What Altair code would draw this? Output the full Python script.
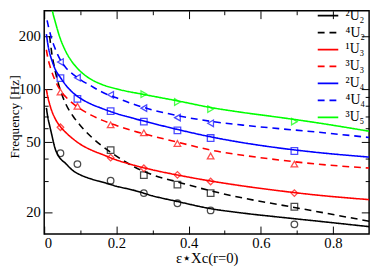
import altair as alt
import pandas as pd

SERIES = ["²U₂", "⁴U₂", "¹U₃", "³U₃", "²U₄", "⁴U₄", "³U₅"]
COLORS = ["#000000", "#000000", "#ff0000", "#ff0000", "#0000ff", "#0000ff", "#00ff00"]
DASHES = [[1, 0], [7, 5], [1, 0], [7, 5], [1, 0], [7, 5], [1, 0]]
SHAPES = ["circle", "square", "diamond", "triangle-up", "square", "triangle-left", "triangle-right"]

# fitted curves
X_2U2 = [0.006, 0.01, 0.015, 0.02, 0.03, 0.04, 0.06, 0.08, 0.1, 0.13, 0.16, 0.2, 0.25, 0.3, 0.37, 0.46, 0.55, 0.65, 0.75, 0.9]
F_2U2 = [78, 69, 62, 56, 46, 41.5, 37.6, 34.3, 32.5, 30.8, 29.6, 28.0, 26.5, 24.7, 22.9, 20.9, 19.7, 18.7, 17.8, 16.5]
X_4U2 = [0.015, 0.02, 0.03, 0.045, 0.06, 0.08, 0.1, 0.13, 0.16, 0.2, 0.25, 0.3, 0.37, 0.46, 0.55, 0.65, 0.75, 0.9]
F_4U2 = [200, 165, 128, 98, 82, 70, 62, 53.5, 47.5, 41.5, 36, 32.5, 29.6, 26.4, 24, 22, 20.2, 17.7]
X_1U3 = [0.006, 0.01, 0.015, 0.02, 0.03, 0.045, 0.06, 0.08, 0.1, 0.13, 0.16, 0.2, 0.25, 0.3, 0.37, 0.46, 0.55, 0.65, 0.75, 0.9]
F_1U3 = [99, 90, 82, 76, 68, 61, 56.5, 52, 48.5, 45, 42.5, 39.5, 36.8, 34.7, 32.4, 30, 28.1, 26.4, 25, 23.5]
X_3U3 = [0.006, 0.01, 0.015, 0.02, 0.03, 0.045, 0.06, 0.08, 0.1, 0.13, 0.16, 0.2, 0.25, 0.3, 0.37, 0.46, 0.55, 0.65, 0.75, 0.9]
F_3U3 = [167, 150, 137, 127, 112, 98, 90, 82.5, 77, 71, 66.5, 62, 57.5, 54, 49.8, 45, 42, 39.5, 37.5, 35.5]
X_2U4 = [0.006, 0.01, 0.015, 0.02, 0.03, 0.045, 0.06, 0.08, 0.1, 0.13, 0.16, 0.2, 0.25, 0.3, 0.37, 0.46, 0.55, 0.65, 0.75, 0.9]
F_2U4 = [205, 180, 160, 148, 130, 116, 105, 95, 88.5, 82, 77.5, 72.5, 67.8, 63.8, 58.8, 53.5, 49.5, 46.2, 43.7, 41]
X_4U4 = [0.008, 0.012, 0.02, 0.03, 0.045, 0.06, 0.08, 0.1, 0.13, 0.16, 0.2, 0.25, 0.3, 0.37, 0.46, 0.55, 0.65, 0.75, 0.9]
F_4U4 = [245, 225, 195, 170, 146, 132, 121, 113, 104, 96, 89, 81.5, 76, 70.5, 65.5, 62.3, 59.5, 57, 53]
X_3U5 = [0.018, 0.025, 0.03, 0.042, 0.06, 0.08, 0.1, 0.122, 0.16, 0.21, 0.276, 0.37, 0.46, 0.55, 0.65, 0.75, 0.9]
F_3U5 = [310, 265, 243, 200, 163, 140, 126, 116, 106, 99, 93, 85.5, 78.5, 73.5, 69, 64.5, 57.5]

# model points
XM_2U2 = [0.045, 0.092, 0.184, 0.276, 0.369, 0.461, 0.693]
FM_2U2 = [43.1, 37.4, 30.1, 25.6, 22.4, 20.4, 17.0]
XM_4U2 = [0.184, 0.276, 0.369, 0.461, 0.693]
FM_4U2 = [44.9, 32.4, 28.6, 25.6, 21.4]
XM_1U3 = [0.045, 0.184, 0.276, 0.369, 0.461, 0.693]
FM_1U3 = [60.6, 40.7, 35.4, 32.5, 29.8, 25.6]
XM_3U3 = [0.045, 0.092, 0.184, 0.276, 0.369, 0.461, 0.693]
FM_3U3 = [95.9, 79.8, 62.5, 56.3, 49.0, 41.6, 37.4]
XM_2U4 = [0.045, 0.092, 0.184, 0.276, 0.369, 0.461, 0.693]
FM_2U4 = [115.2, 87.9, 74.8, 65.2, 58.1, 52.6, 44.4]
XM_4U4 = [0.045, 0.092, 0.184, 0.276, 0.369, 0.461]
FM_4U4 = [142.2, 115.8, 92.6, 77.8, 68.7, 63.8]
XM_3U5 = [0.276, 0.369, 0.461, 0.693]
FM_3U5 = [93.4, 84.3, 76.8, 65.2]

X_MAJOR = [0, 0.2, 0.4, 0.6, 0.8]
X_MINOR = [0.1, 0.3, 0.5, 0.7]
Y_MAJOR = [20, 50, 100, 200]
Y_MINOR = [30, 40, 60, 70, 80, 90]

curve_sets = [(X_2U2, F_2U2), (X_4U2, F_4U2), (X_1U3, F_1U3), (X_3U3, F_3U3),
              (X_2U4, F_2U4), (X_4U4, F_4U4), (X_3U5, F_3U5)]
mark_sets = [(XM_2U2, FM_2U2), (XM_4U2, FM_4U2), (XM_1U3, FM_1U3), (XM_3U3, FM_3U3),
             (XM_2U4, FM_2U4), (XM_4U4, FM_4U4), (XM_3U5, FM_3U5)]

curves = pd.DataFrame([{"series": s, "x": x, "f": f}
                       for s, (xs_, fs_) in zip(SERIES, curve_sets) for x, f in zip(xs_, fs_)])
points = pd.DataFrame([{"mode": s, "x": x, "f": f}
                       for s, (xs_, fs_) in zip(SERIES, mark_sets) for x, f in zip(xs_, fs_)])

FONT = "Liberation Serif"
xs = alt.Scale(domain=[0, 0.9], nice=False, zero=False)
ys = alt.Scale(type="log", domain=[15, 278], nice=False)

def ax(orient, values, size, labels=False, title=None, fmt=None, extra=None):
    kw = dict(orient=orient, values=values, tickSize={"expr": str(-size)}, labels=labels,
              domain=False, grid=False, tickColor="black", tickWidth=1)
    if labels:
        kw.update(labelPadding=size + 4, labelFont=FONT, labelFontSize=15, labelColor="black",
                  format=fmt)
    if title:
        kw.update(title=title, titleFont=FONT, titleFontSize=15, titleFontWeight="normal",
                  titleColor="black")
    else:
        kw.update(title=None)
    if extra:
        kw.update(extra)
    return alt.Axis(**kw)

legend = alt.Legend(title=None, orient="none", legendX=283, legendY=-2, symbolType="M-2,0H2",
                    symbolSize=110, symbolStrokeWidth=1.8, labelFont=FONT, labelFontSize=14,
                    labelColor="black", labelOffset=11, rowPadding=3.3, padding=0,
                    labelLimit=0)

color_scale = alt.Scale(domain=SERIES, range=COLORS)

lines = alt.Chart(curves).mark_line(strokeWidth=1.6, clip=True, interpolate="monotone").encode(
    x=alt.X("x:Q", scale=xs, axis=ax("bottom", X_MAJOR, 8, True, "ε⋆Xc(r=0)", "~g",
                                     {"titlePadding": 0, "labelPadding": 10})),
    y=alt.Y("f:Q", scale=ys, axis=ax("left", Y_MAJOR, 8, True, "Frequency [Hz]", "d",
                                     {"titleX": -37, "titleY": 108, "titleBaseline": "top",
                                      "titleFontSize": 13.5})),
    color=alt.Color("series:N", scale=color_scale, legend=legend, sort=SERIES),
    strokeDash=alt.StrokeDash("series:N", scale=alt.Scale(domain=SERIES, range=DASHES),
                              legend=legend, sort=SERIES),
)

point_layers = []
for i, s in enumerate(SERIES):
    point_layers.append(
        alt.Chart(points).transform_filter(alt.datum.mode == s).mark_point(
            filled=False, size=45, strokeWidth=1.3, clip=True, shape=SHAPES[i], color=COLORS[i]
        ).encode(
            x=alt.X("x:Q", scale=xs, axis=ax("top", X_MAJOR, 8) if i == 0 else None),
            y=alt.Y("f:Q", scale=ys, axis=ax("right", Y_MAJOR, 8) if i == 0 else None),
        )
    )

minor1 = alt.Chart(points).mark_point(opacity=0).encode(
    x=alt.X("x:Q", scale=xs, axis=ax("bottom", X_MINOR, 4)),
    y=alt.Y("f:Q", scale=ys, axis=ax("left", Y_MINOR, 4)),
)
minor2 = alt.Chart(points).mark_point(opacity=0).encode(
    x=alt.X("x:Q", scale=xs, axis=ax("top", X_MINOR, 4)),
    y=alt.Y("f:Q", scale=ys, axis=ax("right", Y_MINOR, 4)),
)

chart = alt.layer(lines, *point_layers, minor1, minor2).resolve_axis(
    x="independent", y="independent"
).properties(
    width=332, height=228,
    autosize=alt.AutoSizeParams(type="none"),
    padding={"left": 37, "top": 0, "right": 5, "bottom": 34},
    background="white",
).configure_view(stroke="black", strokeWidth=1.5)

chart.save("out.html", embed_options={"renderer": "svg", "actions": False})
